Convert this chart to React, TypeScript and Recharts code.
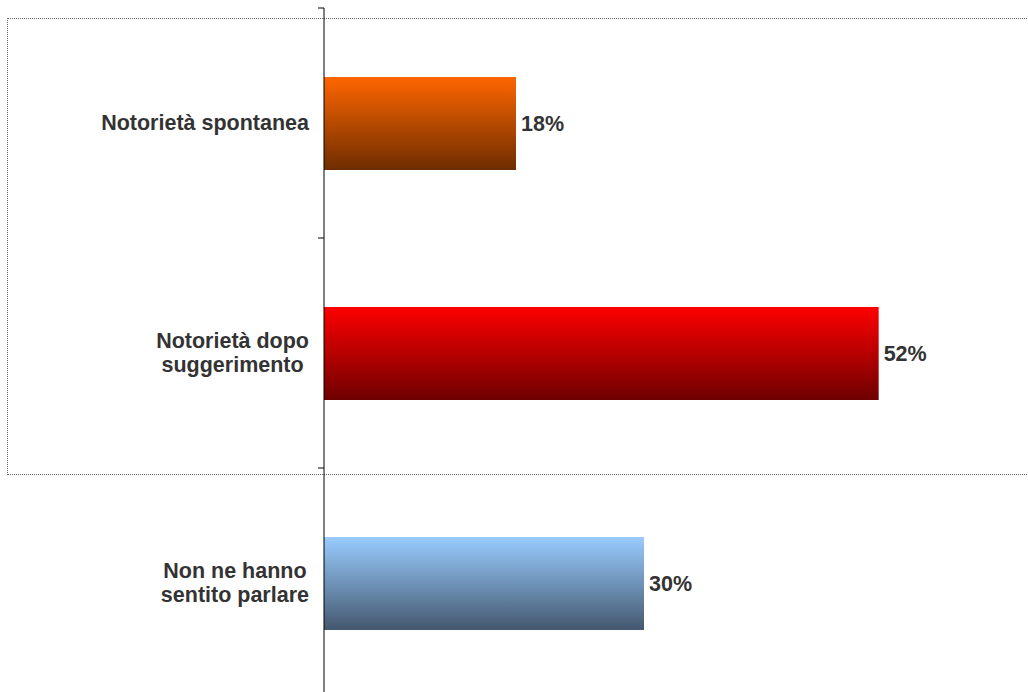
import { BarChart, Bar, XAxis, YAxis, Cell, LabelList } from 'recharts';

const categories = ['Notorietà spontanea', 'Notorietà dopo\nsuggerimento', 'Non ne hanno\nsentito parlare'];
const values = [18, 52, 30];
const topColors = ['#FF6600', '#FF0000', '#99CCFF'];
const bottomColors = ['#6E2D00', '#6E0000', '#44586F'];

const data = categories.map((name, i) => ({ name, value: values[i] }));

const FONT = '"Liberation Sans", Arial, sans-serif';
const TEXT = '#333333';
const FS = 21.5;

let ctx: CanvasRenderingContext2D | null = null;
function textWidth(s: string) {
  if (!ctx) ctx = document.createElement('canvas').getContext('2d');
  if (!ctx) return s.length * 12;
  ctx.font = `bold ${FS}px ${FONT}`;
  return ctx.measureText(s).width;
}

function CategoryTick(props: any) {
  const { x, y, payload } = props;
  const lines: string[] = String(payload.value).split('\n');
  const block = Math.max(...lines.map(textWidth));
  const cx = x - block / 2;
  const n = lines.length;
  const bandHalf = payload.offset || 0;
  return (
    <g>
      <line x1={x + 9} x2={x + 15} y1={y - bandHalf} y2={y - bandHalf} stroke="#000" strokeWidth={1} />
      {lines.map((l, i) => (
        <text key={i} x={cx} y={y + 7 + (i - (n - 1) / 2) * 24} textAnchor="middle"
          fontFamily={FONT} fontSize={FS} fontWeight="bold" fill={TEXT}>
          {l}
        </text>
      ))}
    </g>
  );
}

export default function App() {
  return (
    <div style={{ position: 'fixed', left: 0, top: 0, width: 1028, height: 692, overflow: 'hidden', background: '#fff' }}>
      <div style={{ position: 'absolute', left: 7, top: 18, width: 1040, height: 455, border: '1px dotted #666' }} />
      <div style={{ position: 'absolute', left: 0, top: 0 }}>
        <BarChart width={1028} height={698} data={data} layout="vertical"
          margin={{ top: 8, right: 0, bottom: 0, left: 0 }}>
          <defs>
            {topColors.map((c, i) => (
              <linearGradient key={i} id={`g${i}`} x1="0" y1="0" x2="0" y2="1">
                <stop offset="0%" stopColor={c} />
                <stop offset="100%" stopColor={bottomColors[i]} />
              </linearGradient>
            ))}
          </defs>
          <XAxis type="number" domain={[0, 66]} hide />
          <YAxis type="category" dataKey="name" width={324} tickSize={0} tickMargin={15}
            axisLine={{ stroke: '#000', strokeWidth: 1 }} tickLine={false} tick={<CategoryTick />} />
          <Bar dataKey="value" barSize={93} isAnimationActive={false}>
            {data.map((_, i) => (
              <Cell key={i} fill={`url(#g${i})`} />
            ))}
            <LabelList dataKey="value" position="right" offset={5} formatter={(v: any) => `${v}%`}
              fill={TEXT} fontFamily={FONT} fontSize={FS} fontWeight="bold" />
          </Bar>
        </BarChart>
      </div>
    </div>
  );
}
